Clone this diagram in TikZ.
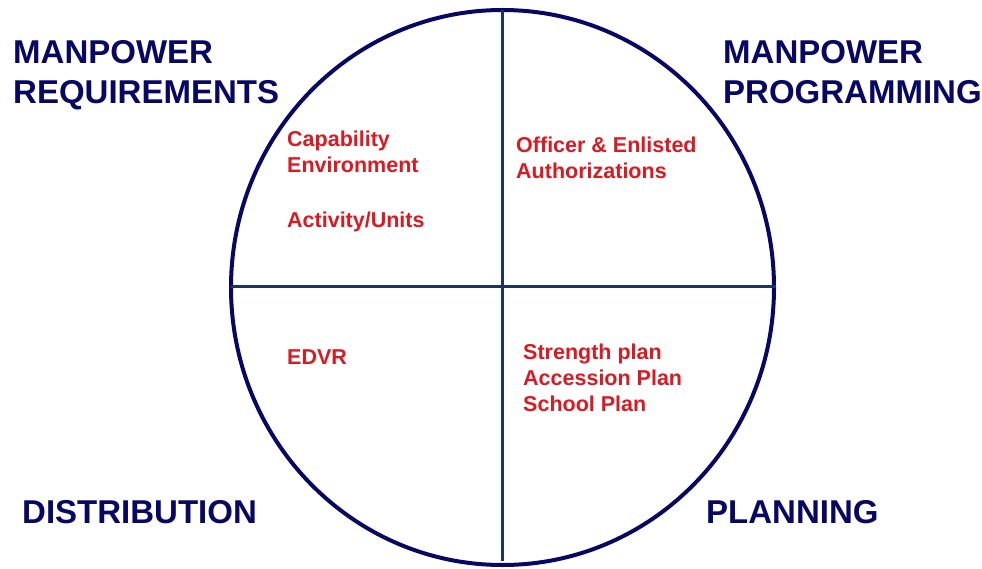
\documentclass[tikz,border=0pt]{standalone}
\usepackage{fontspec}
\setmainfont{Liberation Sans}
\usetikzlibrary{shapes.geometric}
\definecolor{navyblue}{RGB}{8,8,100}
\definecolor{crossblue}{RGB}{28,52,96}
\definecolor{itemred}{RGB}{218,26,34}
\tikzstyle{headstyle} = [font={\fontsize{33}{40}\selectfont\bfseries}, text=navyblue, inner sep=0pt, anchor=base west, align=left]
\tikzstyle{itemstyle} = [font={\fontsize{21.5}{26}\selectfont\bfseries}, text=itemred, inner sep=0pt, anchor=base west, align=left]
\begin{document}
\begin{tikzpicture}[x=1pt,y=-1pt]
\useasboundingbox (0,0) rectangle (982,569);

\node[ellipse, draw=navyblue, line width=4pt, minimum width=543pt, minimum height=555pt, inner sep=0pt, outer sep=0pt] (wheel) at (502.5,287.5) {};
\coordinate (east) at (776,286.5);

\draw[crossblue, line width=2.5pt] (wheel.north) -- ([yshift=4pt]wheel.south);
\draw[crossblue, line width=2.5pt] (wheel.west |- east) -- (east);

% base anchor = baseline of the last line
\node[headstyle] (req) at (13,104) {MANPOWER\\REQUIREMENTS};
\node[headstyle] (prog) at (723,104) {MANPOWER\\PROGRAMMING};
\node[headstyle] (dist) at (22,523) {DISTRIBUTION};
\node[headstyle] (plan) at (706,523) {PLANNING};

\node[itemstyle] (cap) at (287,173) {Capability\\Environment};
\node[itemstyle] (act) at (287,228) {Activity/Units};
\node[itemstyle] (auth) at (516,179) {Officer \& Enlisted\\Authorizations};
\node[itemstyle] (edvr) at (287,364) {EDVR};
\node[itemstyle] (str) at (523,411) {Strength plan\\Accession Plan\\School Plan};
\end{tikzpicture}
\end{document}
